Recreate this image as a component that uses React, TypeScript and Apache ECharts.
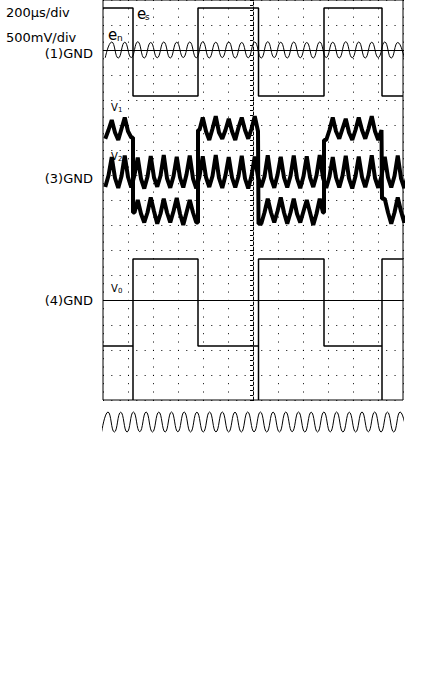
import React, { useEffect, useRef } from "react";
import * as echarts from "echarts";

// ---- data (units: divisions; x = time div from screen centre, y = div from screen centre) ----
const transitions = [-4.8, -2.2, 0.22, 2.84, 5.16];
const esHigh = 7.68;
const esLow = 4.16;
const gndLevels = [6, -4];

const enStart = -5.91;
const enStep = 0.26;
const enValues = [
  5.69, 6.32, 5.68, 6.31, 5.7, 6.33, 5.68, 6.3, 5.69, 6.32, 5.68, 6.31, 5.7, 6.32, 5.69, 6.33,
  5.68, 6.31, 5.7, 6.32, 5.68, 6.3, 5.69, 6.32, 5.68, 6.33, 5.7, 6.31, 5.68, 6.32, 5.69, 6.3,
  5.68, 6.32, 5.7, 6.31, 5.68, 6.33, 5.69, 6.32, 5.68, 6.31, 5.7, 6.32, 5.68, 6.3, 5.69,
];

const vStart = -5.91;
const vStep = 0.13;
const v1Values = [
  2.45, 2.8, 3.2, 2.7, 2.4, 2.85, 3.3, 2.75, 2.5, -0.5, 0.0, -0.55, -0.9, -0.5, 0.1, -0.45,
  -0.95, -0.55, 0.05, -0.5, -0.9, -0.45, 0.08, -0.55, -1.0, -0.5, 0.0, -0.5, -0.9, 2.8, 3.3, 2.75,
  2.4, 2.85, 3.35, 2.7, 2.45, 2.8, 3.25, 2.75, 2.4, 2.9, 3.3, 2.8, 2.45, 2.85, 3.35, 2.75,
  -0.95, -0.5, 0.05, -0.5, -0.9, -0.45, 0.1, -0.5, -0.95, -0.5, 0.05, -0.55, -0.9, -0.45, 0.0, -0.5,
  -1.0, -0.55, 0.05, -0.5, 2.4, 2.8, 3.3, 2.75, 2.45, 2.85, 3.25, 2.7, 2.4, 2.8, 3.3, 2.8,
  2.45, 2.85, 3.35, 2.75, 2.4, 2.8, 0.05, -0.5, -0.95, -0.5, 0.1, -0.45, -0.9, -0.5,
];
const v2Values = [
  0.52, 0.98, 1.72, 0.88, 0.48, 0.95, 1.78, 0.92, 0.5, 1.0, 1.7, 0.85, 0.46, 0.93, 1.76, 0.9,
  0.53, 0.97, 1.8, 0.87, 0.49, 0.95, 1.73, 0.9, 0.5, 1.02, 1.78, 0.86, 0.47, 0.94, 1.75, 0.91,
  0.52, 0.96, 1.8, 0.88, 0.48, 0.99, 1.72, 0.9, 0.5, 0.95, 1.77, 0.86, 0.46, 0.97, 1.74, 0.92,
  0.51, 0.94, 1.79, 0.88, 0.49, 1.0, 1.73, 0.9, 0.5, 0.96, 1.78, 0.87, 0.47, 0.95, 1.75, 0.91,
  0.52, 0.98, 1.8, 0.88, 0.48, 0.94, 1.72, 0.9, 0.5, 0.97, 1.77, 0.86, 0.46, 0.95, 1.74, 0.92,
  0.51, 0.99, 1.79, 0.88, 0.49, 0.95, 1.73, 0.9, 0.5, 0.96, 1.78, 0.87, 0.48, 0.95,
];

const v0High = -2.36;
const v0Low = -5.84;
const v0SpikeFloor = -8;

const refStart = -6.054;
const refStep = 0.254;
const refValues = [
  -0.98, 1, -1, 0.98, -1, 1, -0.97, 1, -1, 0.99, -1, 1, -0.98, 1, -1, 0.98, -1, 1, -0.99, 1,
  -1, 0.98, -1, 1, -0.98, 1, -1, 0.99, -1, 1, -0.97, 1, -1, 0.98, -1, 1, -0.99, 1, -1, 0.98,
  -1, 1, -0.98, 1, -1, 0.99, -1, 1, -0.98,
];

// ---- builders ----
const t = (start: number, step: number, i: number) => +(start + i * step).toFixed(3);
const sampled = (start: number, step: number, vals: number[]) => vals.map((v, i) => [t(start, step, i), v]);

function stepped(start: number, step: number, vals: number[], edges: number[]) {
  const out: number[][] = [];
  vals.forEach((v, i) => {
    const ti = t(start, step, i);
    if (i > 0) {
      const tp = t(start, step, i - 1);
      edges.forEach((e) => {
        if (e > tp && e <= ti) out.push([e, vals[i - 1]], [e, v]);
      });
    }
    out.push([ti, v]);
  });
  return out;
}

function squareWave(edges: number[], first: number, second: number) {
  let level = first;
  const out: number[][] = [[-6, level]];
  edges.forEach((e) => {
    out.push([e, level]);
    level = level === first ? second : first;
    out.push([e, level]);
  });
  out.push([6, level]);
  return out;
}

function v0Wave() {
  let level = v0Low;
  const out: number[][] = [[-6, level]];
  transitions.forEach((e) => {
    if (level === v0Low) {
      out.push([e, v0Low], [e, v0SpikeFloor], [e, v0High]);
      level = v0High;
    } else {
      out.push([e, v0High], [e, v0Low]);
      level = v0Low;
    }
  });
  out.push([6, level]);
  return out;
}

const FONT = "DejaVu Sans";

export default function App() {
  const ref = useRef<HTMLDivElement>(null);
  useEffect(() => {
    if (!ref.current) return;
    const chart = echarts.init(ref.current, undefined, { renderer: "svg" });
    const black = "#000";
    const dots = [1, 7.33];
    const lineBase = { type: "line", symbol: "none", silent: true, animation: false };
    const txt = (text: string, x: number, y: number, size: number, align = "left") => ({
      type: "text",
      x,
      y,
      style: { text, fill: black, font: `${size}px '${FONT}'`, textAlign: align, textVerticalAlign: "middle" },
    });
    chart.setOption({
      animation: false,
      backgroundColor: "#fff",
      grid: [
        { left: 103, top: 0, width: 300, height: 400, show: true, borderColor: black, borderWidth: 1 },
        { left: 103, top: 407, width: 300, height: 30, show: false },
      ],
      xAxis: [
        {
          gridIndex: 0, type: "value", min: -6, max: 6, interval: 1,
          axisLine: { show: false }, axisTick: { show: false }, axisLabel: { show: false },
          splitLine: { show: true, lineStyle: { color: black, width: 1, type: dots } },
        },
        { gridIndex: 1, type: "value", min: -6, max: 6, show: false },
      ],
      yAxis: [
        {
          gridIndex: 0, type: "value", min: -8, max: 8, interval: 1,
          axisLine: { show: true, onZero: true, lineStyle: { color: black, width: 1, type: [3, 2] } },
          axisTick: { show: true, length: 3, lineStyle: { color: black } },
          minorTick: { show: true, splitNumber: 5, length: 3, lineStyle: { color: black } },
          axisLabel: { show: false },
          splitLine: { show: true, lineStyle: { color: black, width: 1, type: dots } },
        },
        { gridIndex: 1, type: "value", min: -1.5, max: 1.5, show: false },
      ],
      series: [
        {
          ...lineBase, name: "GND", data: [],
          markLine: {
            silent: true, symbol: "none", label: { show: false }, animation: false,
            lineStyle: { color: black, type: "solid", width: 1 },
            data: gndLevels.map((v) => ({ yAxis: v })),
          },
        },
        { ...lineBase, name: "es", data: squareWave(transitions, esHigh, esLow), lineStyle: { color: black, width: 1.5 } },
        { ...lineBase, name: "en", smooth: 0.5, data: sampled(enStart, enStep, enValues), lineStyle: { color: black, width: 1 } },
        { ...lineBase, name: "v1", data: stepped(vStart, vStep, v1Values, transitions), lineStyle: { color: black, width: 4 } },
        { ...lineBase, name: "v2", data: sampled(vStart, vStep, v2Values), lineStyle: { color: black, width: 4 } },
        { ...lineBase, name: "v0", data: v0Wave(), lineStyle: { color: black, width: 1.5 } },
        {
          ...lineBase, name: "ref", xAxisIndex: 1, yAxisIndex: 1, smooth: 0.5,
          data: sampled(refStart, refStep, refValues), lineStyle: { color: black, width: 1 },
        },
      ],
      graphic: [
        txt("200μs/div", 6, 12, 13),
        txt("500mV/div", 6, 37, 13),
        txt("(1)GND", 93, 53, 13, "right"),
        txt("(3)GND", 93, 178, 13, "right"),
        txt("(4)GND", 93, 300, 13, "right"),
        txt("e", 137, 14, 15),
        txt("s", 145, 17, 9),
        txt("e", 108, 35, 15),
        txt("n", 117, 38, 9),
        txt("V", 111, 107, 10),
        txt("1", 118, 110, 7),
        txt("V", 111, 156, 10),
        txt("2", 118, 159, 7),
        txt("V", 111, 288, 10),
        txt("0", 118, 291, 7),
      ],
    });
    return () => chart.dispose();
  }, []);
  return (
    <div
      ref={ref}
      style={{ position: "absolute", left: 0, top: 0, width: 440, height: 673, background: "#fff" }}
    />
  );
}
